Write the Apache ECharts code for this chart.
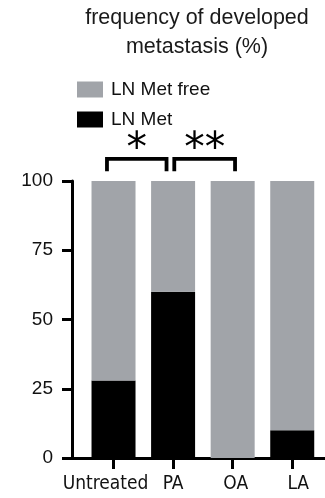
<!DOCTYPE html>
<html>
<head>
<meta charset="utf-8">
<script src="https://cdn.jsdelivr.net/npm/echarts@6/dist/echarts.min.js"></script>
<style>
  html, body { margin: 0; padding: 0; background: #fff; }
  #chart { width: 325px; height: 498px; }
</style>
</head>
<body>
<div id="chart"></div>
<script>
// Groups and their metastasis outcome (percent of animals)
const categories = ['Untreated', 'PA', 'OA', 'LA'];
const lnMet = [28, 60, 0, 10];
const lnMetFree = [72, 40, 100, 90];
const yTicks = [0, 25, 50, 75, 100];

// Significance brackets: [from, to, bracket top, leg bottom, stars]
const brackets = [
  [-0.11, 0.89, 108, 103.5, '*'],
  [1.02, 2.04, 108, 103.5, '**']
];
const starLevel = 114.3;

const chart = echarts.init(document.getElementById('chart'));

const catIdx = categories.map((c, i) => i);
// nudge of each group label relative to its tick (px)
const labelNudge = [-8, 0, 3, 6];
const labelRich = {};
labelNudge.forEach((n, i) => {
  labelRich['g' + i] = {
    padding: n < 0 ? [0, -2 * n, 0, 0] : [0, 0, 0, 2 * n],
    fontFamily: '"Liberation Sans Narrow", "DejaVu Sans", sans-serif',
    fontStyle: 'condensed',
    fontSize: 19,
    color: '#111'
  };
});

// bar rows are [percent, group index] so the percent is the stacked dimension
const rows = vals => catIdx.map(i => [vals[i], i]);

chart.setOption({
  animation: false,
  backgroundColor: '#fff',
  graphic: [
    {
      type: 'text',
      x: 197, y: 4,
      style: {
        text: 'frequency of developed\nmetastasis (%)',
        align: 'center',
        fill: '#1a1a1a',
        font: '21.5px "Liberation Sans", Arial, sans-serif',
        lineHeight: 29
      }
    }
  ],
  legend: {
    orient: 'vertical',
    left: 72, top: 75,
    itemWidth: 26, itemHeight: 16, itemGap: 11,
    icon: 'rect',
    data: ['LN Met free', 'LN Met'],
    textStyle: { fontFamily: 'Liberation Sans', fontSize: 19, color: '#111', padding: [0, 0, 0, 3] }
  },
  grid: { left: 72, right: 0, top: 181, bottom: 40, containLabel: false },
  xAxis: {
    type: 'value',
    min: -0.697, max: 3.55,
    splitLine: { show: false },
    axisLine: { onZero: false, lineStyle: { color: '#000', width: 3 } },
    axisTick: { customValues: catIdx, length: 11, lineStyle: { color: '#000', width: 3 } },
    axisLabel: {
      customValues: catIdx,
      formatter: v => {
        const i = Math.round(v);
        return '{g' + i + '|' + categories[i] + '}';
      },
      rich: labelRich,
      margin: 17
    }
  },
  yAxis: {
    type: 'value',
    min: 0, max: 100, interval: 25,
    splitLine: { show: false },
    axisLine: { show: true, onZero: false, lineStyle: { color: '#000', width: 3 } },
    axisTick: { show: true, length: 10, lineStyle: { color: '#000', width: 3 } },
    axisLabel: {
      margin: 19,
      fontFamily: 'Liberation Sans',
      fontSize: 19,
      color: '#111',
      formatter: v => (yTicks.indexOf(v) >= 0 ? String(v) : '')
    }
  },
  series: [
    {
      name: 'LN Met',
      type: 'bar',
      stack: 'total',
      barWidth: 44,
      encode: { x: 1, y: 0 },
      itemStyle: { color: '#000' },
      data: rows(lnMet)
    },
    {
      name: 'LN Met free',
      type: 'bar',
      stack: 'total',
      barWidth: 44,
      encode: { x: 1, y: 0 },
      itemStyle: { color: '#a1a4a9' },
      data: rows(lnMetFree)
    },
    {
      name: 'significance',
      type: 'custom',
      clip: false,
      silent: true,
      data: brackets,
      encode: { x: [0, 1], y: [2, 3] },
      renderItem: function (params, api) {
        const x1 = api.value(0), x2 = api.value(1);
        const top = api.value(2), leg = api.value(3);
        const a = api.coord([x1, leg]);
        const b = api.coord([x1, top]);
        const c = api.coord([x2, top]);
        const d = api.coord([x2, leg]);
        const s = api.coord([(x1 + x2) / 2, starLevel]);
        const size = 41;
        return {
          type: 'group',
          children: [
            {
              type: 'polyline',
              shape: { points: [a, b, c, d] },
              style: { stroke: '#000', lineWidth: 3.8, fill: null, lineJoin: 'miter', lineCap: 'butt' }
            },
            {
              type: 'text',
              x: s[0], y: s[1] + size * 0.22,
              style: {
                text: brackets[params.dataIndex][4],
                align: 'center',
                verticalAlign: 'middle',
                fill: '#000',
                font: size + 'px "DejaVu Sans", sans-serif'
              }
            }
          ]
        };
      }
    }
  ]
});
</script>
</body>
</html>
